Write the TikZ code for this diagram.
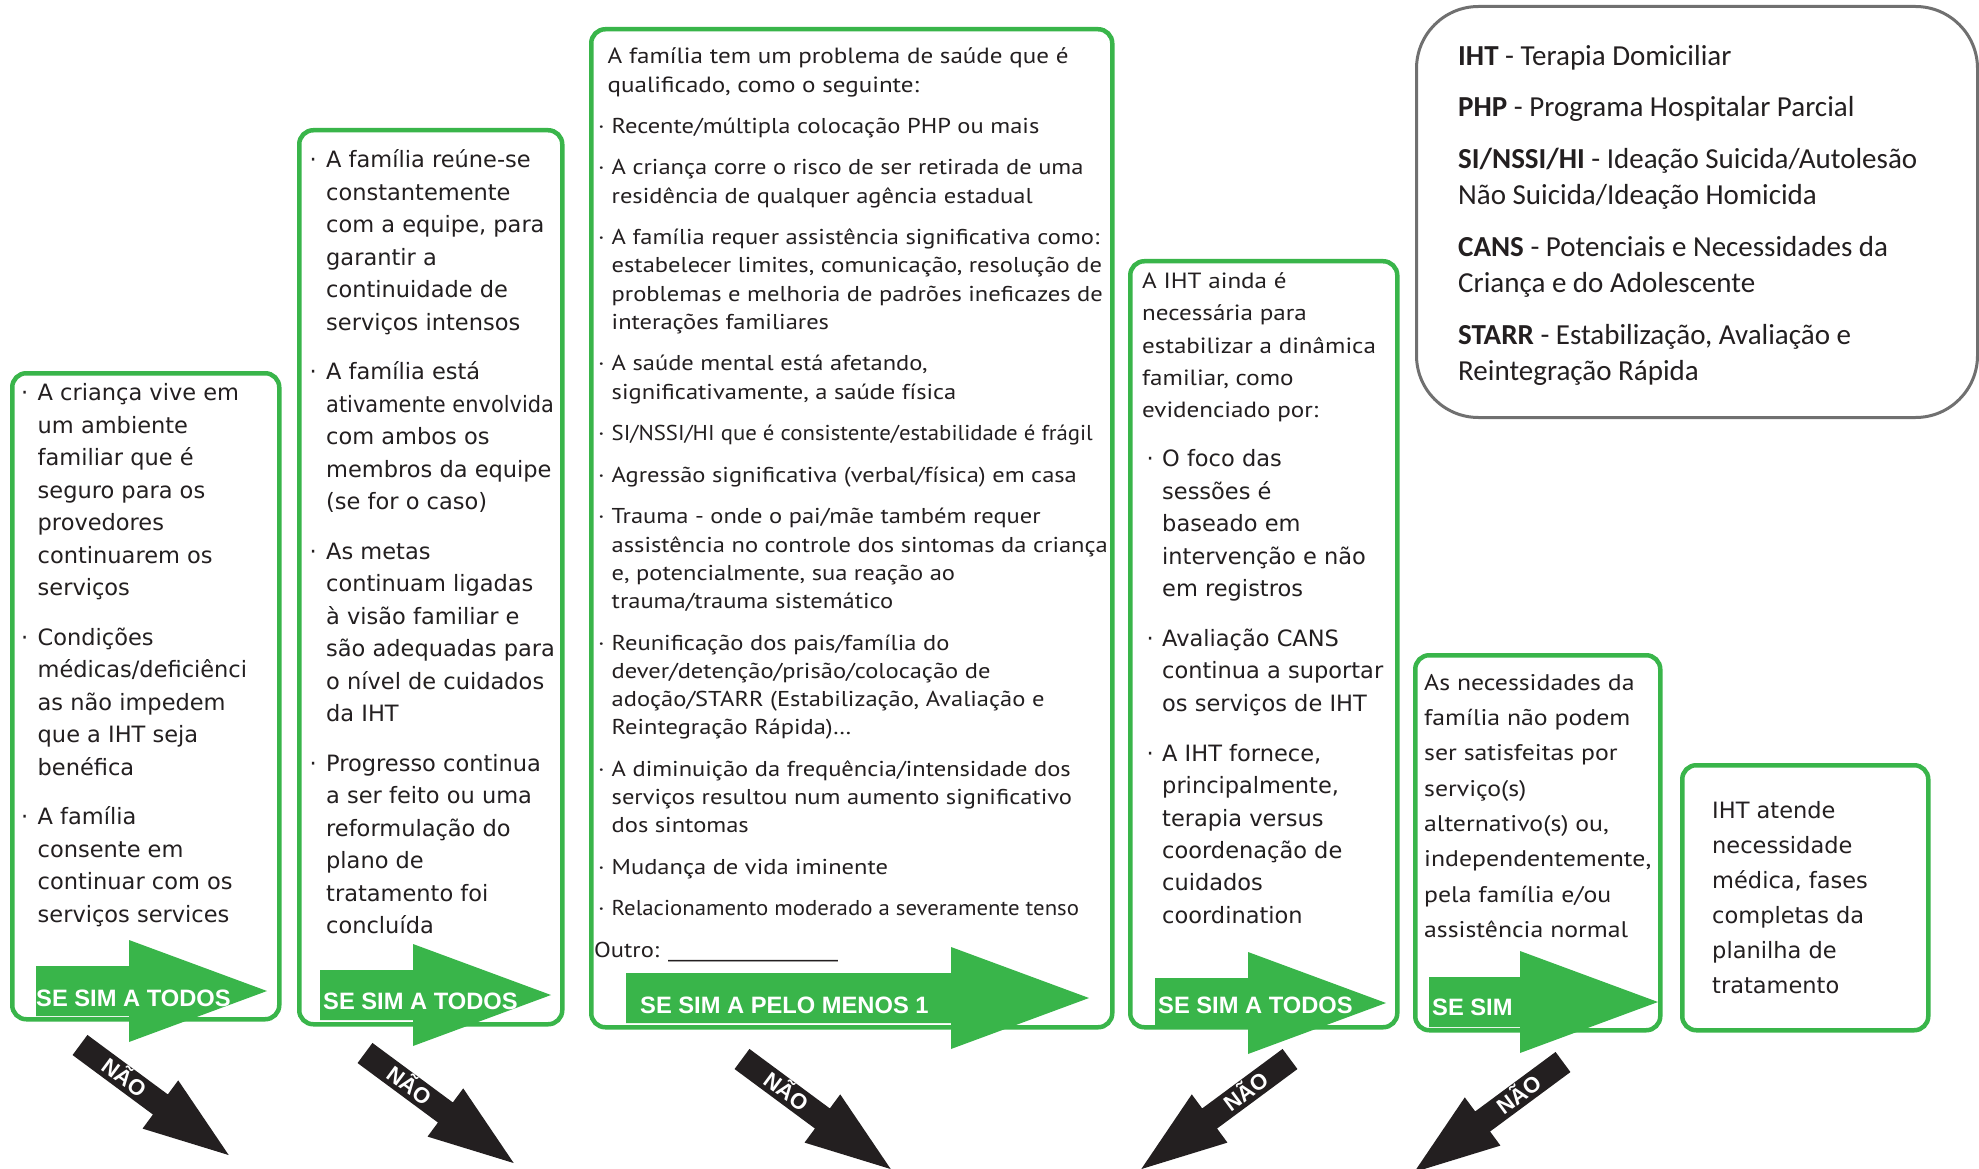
\documentclass[tikz,border=0pt]{standalone}
\usepackage{fontspec}
\usepackage{tikz}
\usetikzlibrary{positioning}
\newfontfamily\widefont{DejaVu Sans}
\newfontfamily\widetight[FakeStretch=0.93]{DejaVu Sans}
\newfontfamily\narrowfont[FakeStretch=1.14]{PT Sans}
\newfontfamily\narrowtight[FakeStretch=1.06]{PT Sans}
\newfontfamily\legendfont{Carlito}
\newfontfamily\arrowfont{Liberation Sans}
\definecolor{ihtgreen}{RGB}{57, 181, 74}
\definecolor{ihtblack}{RGB}{35, 31, 32}
\definecolor{ihtgray}{RGB}{112, 112, 112}

\newlength{\bulw}
\newcommand{\bul}{\makebox[\bulw][l]{·}}
\newcommand{\ind}{\hspace*{\bulw}}

% green arrow: tail x, centre y, shaft length
\newcommand{\yesarrow}[3]{%
  \begin{scope}[shift={(#1,#2)}]
    \fill[ihtgreen] (0,-25) -- (#3,-25) -- (#3,-51) -- ({#3+138},0) -- (#3,51) -- (#3,25) -- (0,25) -- cycle;
  \end{scope}}
% black arrow: name, x, y, direction, text angle
\newcommand{\noarrow}[5]{%
  \begin{scope}[shift={(#2,#3)}, rotate=#4]
    \fill[ihtblack] (0,-12.5) -- (100,-12.5) -- (100,-30) -- (185,0) -- (100,30) -- (100,12.5) -- (0,12.5) -- cycle;
    \node (#1) [nolabel, rotate=#5] at (55,0) {NÃO};
  \end{scope}}

\begin{document}
\begin{tikzpicture}[x=1pt, y=-1pt]
\tikzstyle{criterion} = [draw=ihtgreen, line width=4.5pt, rounded corners=14pt, fill=white, inner sep=0pt, anchor=north west]
\tikzstyle{glossary} = [draw=ihtgray, line width=3pt, rounded corners=62pt, inner sep=0pt, anchor=north west]
\tikzstyle{widetext} = [font=\widefont\fontsize{22.5}{32.5}\selectfont\setlength{\bulw}{16.5pt}, align=left, inner sep=0pt, anchor=north west, text=ihtblack]
\tikzstyle{narrowtext} = [font=\narrowfont\fontsize{21.5}{28.2}\selectfont\setlength{\bulw}{13.5pt}, align=left, inner sep=0pt, anchor=north west, text=ihtblack]
\tikzstyle{yeslabel} = [font=\arrowfont\bfseries\fontsize{23.7}{24}\selectfont, text=white, inner sep=0pt, anchor=base west]
\tikzstyle{nolabel} = [font=\arrowfont\bfseries\fontsize{22}{22}\selectfont, text=white, inner sep=0pt, text height=15.5pt, text depth=0pt]

\fill[white] (0,0) rectangle (1979,1169);
\useasboundingbox (0,0) rectangle (1979,1169);

\node (c1) [criterion, minimum width=267pt, minimum height=646pt] at (10,371) {};
\node (c2) [criterion, minimum width=263pt, minimum height=894pt] at (297,128) {};
\node (c3) [criterion, minimum width=521pt, minimum height=998pt] at (589,27) {};
\node (c4) [criterion, minimum width=267pt, minimum height=766pt] at (1128,259) {};
\node (c5) [criterion, minimum width=245pt, minimum height=375pt] at (1413,653) {};
\node (c6) [criterion, minimum width=246pt, minimum height=265pt] at (1680,763) {};
\node (gloss) [glossary, minimum width=561pt, minimum height=411pt] at (1415,5) {};

\node (t1) [widetext] at (21,378) {\strut\bul A criança vive em\\ \ind um ambiente\\ \ind familiar que é\\ \ind seguro para os\\ \ind provedores\\ \ind continuarem os\\ \ind serviços\\[17pt]
\bul Condições\\ \ind médicas/deficiênci\\ \ind as não impedem\\ \ind que a IHT seja\\ \ind benéfica\\[17pt]
\bul A família\\ \ind consente em\\ \ind continuar com os\\ \ind serviços services};

\node (t2) [widetext] at (309.5,145) {\strut\bul A família reúne-se\\ \ind constantemente\\ \ind com a equipe, para\\ \ind garantir a\\ \ind continuidade de\\ \ind serviços intensos\\[17pt]
\bul A família está\\ \ind {\widetight ativamente envolvida}\\ \ind com ambos os\\ \ind membros da equipe\\ \ind (se for o caso)\\[17pt]
\bul As metas\\ \ind continuam ligadas\\ \ind à visão familiar e\\ \ind são adequadas para\\ \ind o nível de cuidados\\ \ind da IHT\\[17pt]
\bul Progresso continua\\ \ind a ser feito ou uma\\ \ind reformulação do\\ \ind plano de\\ \ind tratamento foi\\ \ind concluída};

\node (t3head) [narrowtext, font=\narrowfont\fontsize{22}{29}\selectfont] at (607.5,42.7) {\strut A família tem um problema de saúde que é\\ qualificado, como o seguinte:};
\node (t3) [narrowtext] at (598,113.3) {\strut\bul Recente/múltipla colocação PHP ou mais\\[13.4pt]
\bul A criança corre o risco de ser retirada de uma\\ \ind residência de qualquer agência estadual\\[13.4pt]
\bul A família requer assistência significativa como:\\ \ind estabelecer limites, comunicação, resolução de\\ \ind problemas e melhoria de padrões ineficazes de\\ \ind interações familiares\\[13.4pt]
\bul A saúde mental está afetando,\\ \ind significativamente, a saúde física\\[13.4pt]
\bul {\narrowtight SI/NSSI/HI que é consistente/estabilidade é frágil}\\[13.4pt]
\bul Agressão significativa (verbal/física) em casa\\[13.4pt]
\bul Trauma - onde o pai/mãe também requer\\ \ind assistência no controle dos sintomas da criança\\ \ind e, potencialmente, sua reação ao\\ \ind trauma/trauma sistemático\\[13.4pt]
\bul Reunificação dos pais/família do\\ \ind dever/detenção/prisão/colocação de\\ \ind adoção/STARR (Estabilização, Avaliação e\\ \ind Reintegração Rápida)\ldots\\[13.4pt]
\bul A diminuição da frequência/intensidade dos\\ \ind serviços resultou num aumento significativo\\ \ind dos sintomas\\[13.4pt]
\bul Mudança de vida iminente\\[13.4pt]
\bul {\narrowtight Relacionamento moderado a severamente tenso}};
\node (outro) [narrowtext, anchor=base west] at (594,957) {Outro: \_\_\_\_\_\_\_\_\_\_\_\_\_\_\_\_\_};

\node (t4head) [narrowtext, font=\narrowfont\fontsize{22}{32.3}\selectfont] at (1142,265.7) {\strut A IHT ainda é\\ necessária para\\ estabilizar a dinâmica\\ familiar, como\\ evidenciado por:};
\node (t4) [widetext, font=\widefont\fontsize{22.5}{32.4}\selectfont\setlength{\bulw}{15.5pt}] at (1146.5,444) {\strut\bul O foco das\\ \ind sessões é\\ \ind baseado em\\ \ind intervenção e não\\ \ind em registros\\[17.6pt]
\bul Avaliação CANS\\ \ind continua a suportar\\ \ind os serviços de IHT\\[17.6pt]
\bul A IHT fornece,\\ \ind principalmente,\\ \ind terapia versus\\ \ind coordenação de\\ \ind cuidados\\ \ind coordination};

\node (t5) [narrowtext, font=\narrowfont\fontsize{22.6}{35.3}\selectfont] at (1424,665.3) {\strut As necessidades da\\ família não podem\\ ser satisfeitas por\\ serviço(s)\\ alternativo(s) ou,\\ independentemente,\\ pela família e/ou\\ assistência normal};

\node (t6) [widetext, font=\widefont\fontsize{22.5}{35}\selectfont] at (1712,793.5) {\strut IHT atende\\ necessidade\\ médica, fases\\ completas da\\ planilha de\\ tratamento};

\node (tgloss) [widetext, font=\legendfont\fontsize{29}{36.5}\selectfont] at (1458,39.5) {\strut\textbf{IHT} - Terapia Domiciliar\\[15pt]
\textbf{PHP} - Programa Hospitalar Parcial\\[15pt]
\textbf{SI/NSSI/HI} - Ideação Suicida/Autolesão\\ Não Suicida/Ideação Homicida\\[15pt]
\textbf{CANS} - Potenciais e Necessidades da\\ Criança e do Adolescente\\[15pt]
\textbf{STARR} - Estabilização, Avaliação e\\ Reintegração Rápida};

\yesarrow{36}{991}{93}
\yesarrow{320}{995}{93}
\yesarrow{626}{998}{325}
\yesarrow{1155}{1003}{93}
\yesarrow{1429}{1002}{91}

\node (yes1) [yeslabel] at (36,1006) {SE SIM A TODOS};
\node (yes2) [yeslabel] at (323,1009) {SE SIM A TODOS};
\node (yes3) [yeslabel] at (640,1013) {SE SIM A PELO MENOS 1};
\node (yes4) [yeslabel] at (1158,1013) {SE SIM A TODOS};
\node (yes5) [yeslabel] at (1432,1015) {SE SIM};

\noarrow{no1}{80}{1045}{-36.5}{-36.5}
\noarrow{no2}{365}{1053}{-36.5}{-36.5}
\noarrow{no3}{742}{1059}{-36.5}{-36.5}
\noarrow{no4}{1290}{1059}{-143.5}{36.5}
\noarrow{no5}{1563}{1062}{-143.5}{36.5}
\end{tikzpicture}
\end{document}
